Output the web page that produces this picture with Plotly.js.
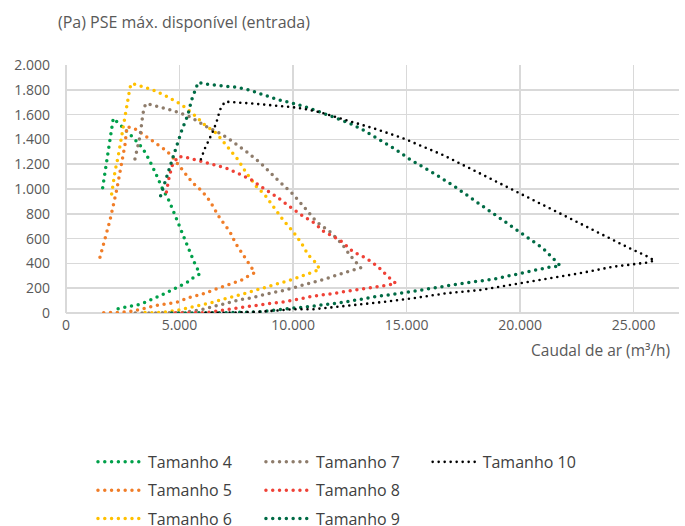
<!DOCTYPE html>
<html>
<head>
<meta charset="utf-8">
<script src="https://cdn.plot.ly/plotly-3.0.1.min.js"></script>
<style>
html,body{margin:0;padding:0;background:#fff;}
#chart{width:685px;height:526px;}
path.js-line{stroke-linecap:round !important;}
</style>
</head>
<body>
<div id="chart"></div>
<script>
// Series names
var seriesNames = ["Tamanho 4","Tamanho 5","Tamanho 6","Tamanho 7","Tamanho 8","Tamanho 9","Tamanho 10"];

// Tamanho 4
var t4x = [1615, 2082, 2522, 2962, 3376, 3653, 3948, 4239, 4547, 4798, 4943, 5313, 5634, 5898, 5603, 5339, 5062, 4754, 4432, 4137, 3842, 3552, 3257, 2962, 2672, 2333, 2157];
var t4y = [1011, 1570, 1494, 1414, 1328, 1240, 1127, 1006, 903, 790, 736, 562, 414, 315, 285, 248, 220, 191, 164, 139, 113, 91, 70, 59, 46, 32, 30];

// Tamanho 5
var t5x = [1496, 1673, 1937, 2232, 2421, 2597, 2685, 3037, 3332, 3873, 4168, 4432, 4652, 4943, 5163, 5383, 5603, 5973, 6193, 6369, 6778, 7218, 7469, 7733, 7997, 8319, 8024, 7733, 7408, 7100, 6778, 6483, 6193, 5898, 5533, 5238, 4916, 4577, 3961, 3300, 2962, 2377, 1600];
var t5y = [449, 567, 748, 992, 1172, 1355, 1504, 1484, 1449, 1382, 1347, 1307, 1266, 1194, 1140, 1094, 1046, 986, 938, 893, 764, 656, 562, 486, 406, 325, 298, 266, 244, 226, 206, 185, 165, 145, 132, 110, 89, 78, 60, 30, 15, 5, 2];

// Tamanho 6
var t6x = [2011, 2157, 2302, 2421, 2522, 2597, 2716, 2817, 2892, 3182, 3521, 3842, 4168, 4476, 4767, 5062, 5603, 6118, 6633, 7073, 7584, 7953, 8394, 8759, 9124, 9564, 10004, 10374, 10665, 10959, 11180, 10858, 10519, 10198, 9890, 9564, 9274, 8935, 8614, 8288, 7953, 7658, 7364, 7073, 6747, 6457, 6149, 5823, 5533, 5238, 4943, 4652, 4283, 3697, 3402];
var t6y = [960, 1140, 1266, 1390, 1511, 1575, 1699, 1817, 1852, 1839, 1817, 1798, 1772, 1744, 1712, 1683, 1605, 1516, 1449, 1347, 1234, 1127, 1019, 952, 857, 750, 656, 562, 468, 414, 352, 328, 306, 285, 266, 248, 231, 212, 194, 177, 164, 145, 131, 119, 99, 86, 73, 59, 46, 32, 24, 16, 6, 2, 6];

// Tamanho 7
var t7x = [3037, 3257, 3376, 3433, 3521, 3816, 4137, 4723, 5458, 6193, 6778, 7144, 7953, 8583, 9274, 10004, 10594, 11034, 11620, 12135, 12500, 12720, 12984, 12645, 12355, 12029, 11721, 11400, 11105, 10783, 10445, 10150, 9828, 9494, 9168, 8834, 8508, 8174, 7733, 7438, 7144, 6822, 6483, 6193, 5898, 5533, 5238, 4872, 4000, 3037];
var t7y = [1242, 1422, 1591, 1651, 1691, 1678, 1664, 1632, 1583, 1503, 1449, 1409, 1301, 1207, 1081, 957, 831, 736, 656, 562, 468, 419, 365, 347, 328, 312, 293, 274, 258, 240, 226, 207, 191, 177, 167, 151, 137, 123, 110, 97, 78, 65, 51, 43, 24, 16, 6, 2, 1, 0];

// Tamanho 8
var t8x = [4423, 4547, 4687, 4952, 5458, 6338, 7073, 7658, 8173, 8728, 9274, 9859, 10374, 10959, 11325, 12060, 12645, 13235, 13745, 14186, 14525, 14230, 13556, 12910, 12249, 11589, 10929, 10269, 9639, 9010, 8319, 8024, 7073, 6483, 6118, 4798];
var t8y = [976, 1099, 1194, 1264, 1248, 1207, 1167, 1119, 1073, 1002, 938, 857, 790, 723, 661, 589, 494, 441, 373, 293, 240, 226, 207, 185, 172, 153, 137, 113, 91, 78, 59, 51, 24, 10, 2, 0];

// Tamanho 9
var t9x = [4168, 4357, 4577, 4899, 5119, 5357, 5533, 5647, 5823, 6118, 6853, 7513, 8099, 8684, 9274, 10004, 10739, 11325, 11915, 12500, 13085, 13746, 14555, 15141, 15726, 16316, 17121, 17707, 18297, 18838, 19424, 19952, 20497, 21008, 21523, 21774, 21378, 20057, 18807, 17487, 16167, 14921, 13600, 12205, 11034, 9714, 8539, 7073, 4577];
var t9y = [946, 1059, 1188, 1361, 1484, 1591, 1718, 1772, 1861, 1847, 1831, 1820, 1798, 1758, 1723, 1691, 1651, 1611, 1570, 1530, 1476, 1401, 1315, 1240, 1180, 1113, 1019, 944, 871, 804, 728, 664, 589, 522, 427, 379, 373, 320, 272, 240, 199, 164, 131, 86, 59, 30, 10, 2, 0];

// Tamanho 10
var t10x = [5942, 6118, 6263, 6514, 6659, 6778, 6998, 7513, 8099, 8759, 9419, 10004, 10594, 11180, 11840, 12795, 13675, 14846, 15726, 16606, 17637, 18517, 19397, 19982, 20863, 21888, 22918, 23798, 24824, 25629, 25924, 25559, 24089, 22623, 21158, 19688, 18222, 16756, 15286, 13820, 12355, 10885, 10004, 8539, 7073, 5898];
var t10y = [1240, 1328, 1382, 1482, 1557, 1637, 1704, 1699, 1691, 1680, 1669, 1659, 1643, 1619, 1583, 1530, 1482, 1409, 1341, 1274, 1180, 1099, 1019, 965, 885, 790, 696, 615, 522, 454, 422, 406, 373, 320, 274, 234, 185, 159, 119, 86, 59, 30, 30, 10, 2, 0];

var xs = [t4x, t5x, t6x, t7x, t8x, t9x, t10x];
var ys = [t4y, t5y, t6y, t7y, t8y, t9y, t10y];
var colors = ["#00A04A", "#F07D28", "#FFC000", "#8E7C6B", "#EF4136", "#006B45", "#000000"];
var legendFor = ["legend", "legend", "legend", "legend2", "legend2", "legend2", "legend3"];

var traces = seriesNames.map(function(name, i){
  var isBlack = (i === 6);
  return {
    type: "scatter", mode: "lines", name: name,
    x: xs[i], y: ys[i],
    legend: legendFor[i], legendgroup: "g" + i,
    line: {color: colors[i], width: isBlack ? 2.6 : 3.5, dash: isBlack ? "0px,6px" : "0px,6.8px"},
    hoverinfo: "skip"
  };
});

var fontFam = "'Open Sans', 'Noto Sans', sans-serif";
function legendAt(xp){
  return {
    x: xp, y: -0.532, xref: "paper", yref: "paper", xanchor: "left", yanchor: "top",
    orientation: "v", bgcolor: "rgba(0,0,0,0)", borderwidth: 0,
    font: {family: fontFam, size: 16, color: "#404040"},
    tracegroupgap: 4.5, itemwidth: 45, traceorder: "grouped"
  };
}

var layout = {
  width: 685, height: 526,
  margin: {l: 66, r: 6, t: 65, b: 213, autoexpand: false},
  paper_bgcolor: "#ffffff", plot_bgcolor: "#ffffff",
  separators: ",.",
  font: {family: fontFam, color: "#595959"},
  title: {
    text: "(Pa) PSE máx. disponível (entrada)",
    x: 58/685, xref: "container", xanchor: "left",
    y: 1 - 22/526, yref: "container", yanchor: "middle",
    font: {family: fontFam, size: 16, color: "#595959"}
  },
  xaxis: {
    range: [0, 27000], dtick: 5000, tick0: 0, tickformat: ",d", separatethousands: true,
    showgrid: true, gridcolor: "#d9d9d9", gridwidth: 1.5,
    zeroline: true, zerolinecolor: "#d9d9d9", zerolinewidth: 1.5,
    showline: false, ticks: "", ticklabelstandoff: 2,
    tickfont: {family: fontFam, size: 14, color: "#595959"},
    fixedrange: true
  },
  yaxis: {
    range: [0, 2000], dtick: 200, tick0: 0, tickformat: ",d", separatethousands: true,
    showgrid: true, gridcolor: "#d9d9d9", gridwidth: 1.5,
    zeroline: true, zerolinecolor: "#d9d9d9", zerolinewidth: 1.5,
    showline: false, ticks: "", ticklabelstandoff: 15,
    tickfont: {family: fontFam, size: 14, color: "#595959"},
    fixedrange: true
  },
  showlegend: true,
  legend: legendAt(0.044),
  legend2: legendAt(0.318),
  legend3: legendAt(0.590),
  annotations: [{
    text: "Caudal de ar (m³/h)", xref: "paper", yref: "paper",
    x: 0.9886, y: -0.149, xanchor: "right", yanchor: "middle", showarrow: false,
    font: {family: fontFam, size: 15.5, color: "#595959"}
  }]
};

Plotly.newPlot("chart", traces, layout, {displayModeBar: false, staticPlot: true});
</script>
</body>
</html>
